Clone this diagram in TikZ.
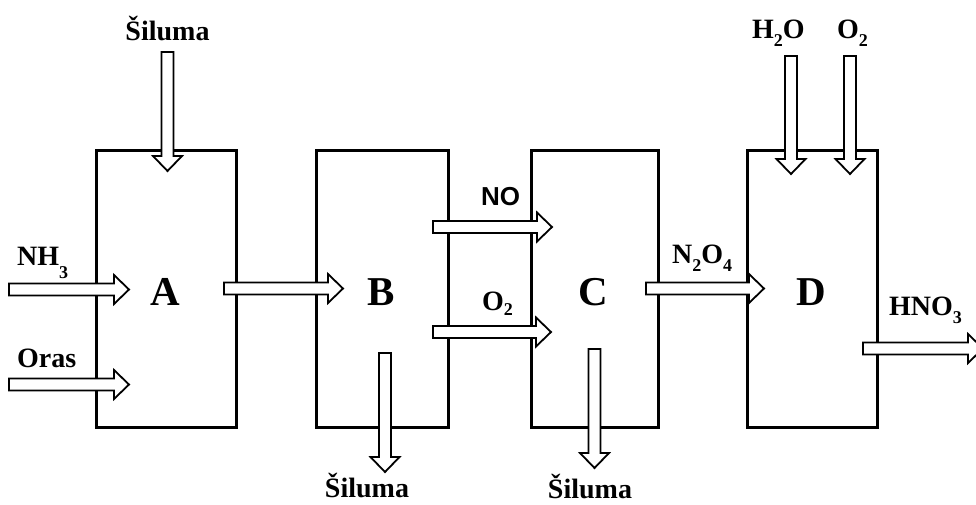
\documentclass[tikz,border=0pt]{standalone}
\usepackage{fontspec}
\setmainfont{Liberation Serif}
\setsansfont{Liberation Sans}
\usetikzlibrary{calc}
\newcommand\chs[2][-8pt]{\raisebox{#1}{\fontsize{18}{18}\selectfont #2}}
\begin{document}
\begin{tikzpicture}[x=1pt,y=-1pt,
  box/.style={draw, line width=3pt, rectangle, inner sep=0pt},
  letter/.style={anchor=base, inner sep=0pt, font=\fontsize{41}{41}\selectfont\bfseries},
  lbl/.style={anchor=base west, inner sep=0pt, font=\fontsize{28}{28}\selectfont\bfseries},
  clbl/.style={anchor=base, inner sep=0pt, font=\fontsize{28}{28}\selectfont\bfseries},
  slbl/.style={anchor=base west, inner sep=0pt, font=\fontsize{26}{26}\selectfont\sffamily\bfseries},
  harrow/.style={draw, fill=white, line width=1.8pt, line join=miter,
    to path={let \p1=(\tikztostart), \p2=(\tikztotarget) in
      (\x1,\y1+6pt) -- (\x2-15pt,\y1+6pt) -- (\x2-15pt,\y1+14.5pt) -- (\x2,\y1)
      -- (\x2-15pt,\y1-14.5pt) -- (\x2-15pt,\y1-6pt) -- (\x1,\y1-6pt) -- cycle}},
  varrow/.style={draw, fill=white, line width=1.8pt, line join=miter,
    to path={let \p1=(\tikztostart), \p2=(\tikztotarget) in
      (\x1-6pt,\y1) -- (\x1-6pt,\y2+15pt) -- (\x1-14.5pt,\y2+15pt) -- (\x1,\y2)
      -- (\x1+14.5pt,\y2+15pt) -- (\x1+6pt,\y2+15pt) -- (\x1+6pt,\y1) -- cycle}}
]
\useasboundingbox (0,0) rectangle (976,504);

% boxes
\node[box, minimum width=139.5pt, minimum height=277.5pt] (A) at (166.25,288.75) {};
\node[box, minimum width=132pt, minimum height=277.5pt] (B) at (382.5,288.75) {};
\node[box, minimum width=127pt, minimum height=277.5pt] (C) at (595,288.75) {};
\node[box, minimum width=130pt, minimum height=277.5pt] (D) at (812,288.75) {};

% arrow end points
\coordinate (sA0) at (167.5,52);   \coordinate (sA1) at (167.5,171);
\coordinate (nh0) at (9,289.5);    \coordinate (nh1) at (129,289.5);
\coordinate (or0) at (9,384.5);    \coordinate (or1) at (129,384.5);
\coordinate (ab0) at (224,288.5);  \coordinate (ab1) at (343,288.5);
\coordinate (no0) at (433,227);    \coordinate (no1) at (552,227);
\coordinate (ox0) at (433,332);    \coordinate (ox1) at (551,332);
\coordinate (cd0) at (646,288.5);  \coordinate (cd1) at (764,288.5);
\coordinate (hn0) at (863,348.5);  \coordinate (hn1) at (983,348.5);
\coordinate (hw0) at (791,56);     \coordinate (hw1) at (791,174);
\coordinate (od0) at (850,56);     \coordinate (od1) at (850,174);
\coordinate (sB0) at (385,353);    \coordinate (sB1) at (385,472);
\coordinate (sC0) at (594.5,349);  \coordinate (sC1) at (594.5,468);

% arrows
\draw[varrow] (sA0) to (sA1);
\draw[harrow] (nh0) to (nh1);
\draw[harrow] (or0) to (or1);
\draw[harrow] (ab0) to (ab1);
\draw[harrow] (no0) to (no1);
\draw[harrow] (ox0) to (ox1);
\draw[harrow] (cd0) to (cd1);
\draw[harrow] (hn0) to (hn1);
\draw[varrow] (hw0) to (hw1);
\draw[varrow] (od0) to (od1);
\draw[varrow] (sB0) to (sB1);
\draw[varrow] (sC0) to (sC1);

% letters
\node[letter] (lA) at (165,305) {A};
\node[letter] (lB) at (381,305) {B};
\node[letter] (lC) at (593,305) {C};
\node[letter] (lD) at (811,305) {D};

% labels
\node[clbl] (tA) at (167.5,40) {Šiluma};
\node[lbl] (tNH) at (17,265) {NH\chs[-13pt]{3}};
\node[lbl] (tOr) at (17,367) {Oras};
\node[slbl] (tNO) at (481,205) {NO};
\node[lbl] (tO2) at (482,310) {O\chs[-5pt]{2}};
\node[lbl] (tN2O4) at (672,263) {N\chs{2}O\chs{4}};
\node[lbl] (tH2O) at (752,38) {H\chs{2}O};
\node[lbl] (tO2b) at (837,38) {O\chs{2}};
\node[lbl] (tHNO) at (889,315) {HNO\chs{3}};
\node[clbl] (tB) at (367,497) {Šiluma};
\node[clbl] (tC) at (590,498) {Šiluma};
\end{tikzpicture}
\end{document}
